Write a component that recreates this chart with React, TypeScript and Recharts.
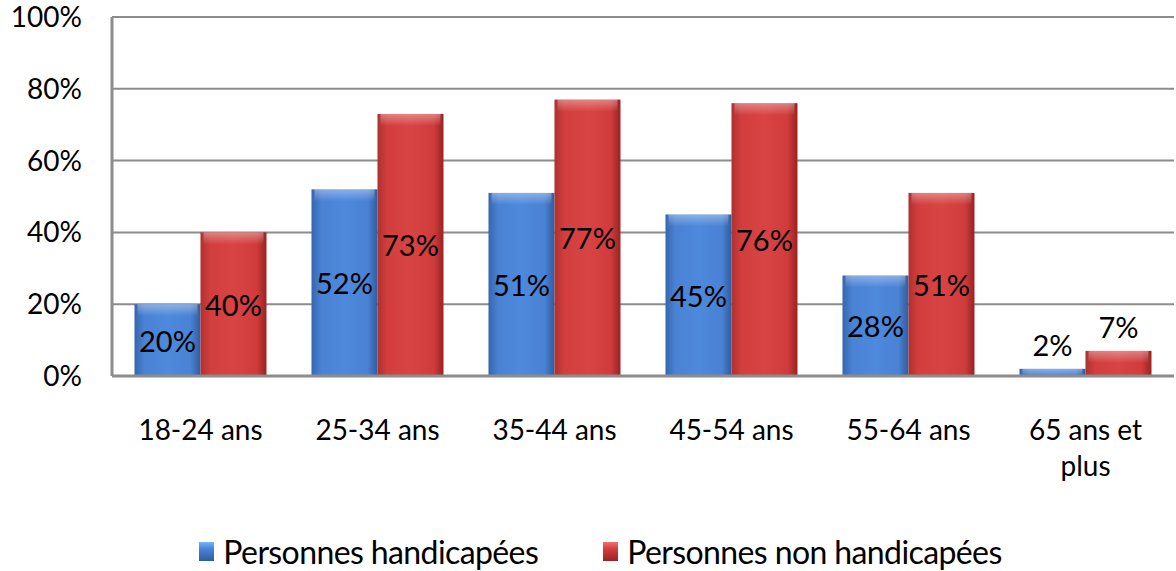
import { Bar, BarChart, CartesianGrid, LabelList, Legend, XAxis, YAxis } from "recharts";

const ageGroups = ["18-24 ans", "25-34 ans", "35-44 ans", "45-54 ans", "55-64 ans", "65 ans et plus"];
const handicapees = [20, 52, 51, 45, 28, 2];
const nonHandicapees = [40, 73, 77, 76, 51, 7];
const yTicks = [0, 20, 40, 60, 80, 100];

const series = [
  { key: "handi", name: "Personnes handicapées", grad: "blueGrad", color: "#4a85d8" },
  { key: "nonHandi", name: "Personnes non handicapées", grad: "redGrad", color: "#d64040" },
];

const data = ageGroups.map((g, i) => ({
  group: g,
  handi: handicapees[i],
  nonHandi: nonHandicapees[i],
}));

const FONT = "Lato, 'Open Sans', sans-serif";

function BevelBar(props: any) {
  const { x, y, width, height, grad } = props;
  if (!height || height <= 0) return null;
  const hl = Math.min(12, height);
  return (
    <g>
      <rect x={x} y={y} width={width} height={height} fill={`url(#${grad})`} />
      <rect x={x + 3} y={y} width={width - 6} height={hl} fill="url(#topShine)" />
    </g>
  );
}

function XTick(props: any) {
  const { x, y, payload } = props;
  const text: string = payload.value;
  const lines = text === "65 ans et plus" ? ["65 ans et", "plus"] : [text];
  return (
    <text x={x} y={y} textAnchor="middle" fontFamily={FONT} fontSize={28} fill="#000">
      {lines.map((l, i) => (
        <tspan key={l} x={x} dy={i === 0 ? 8 : 36}>
          {l}
        </tspan>
      ))}
    </text>
  );
}

function BarLabel(props: any) {
  const { x, y, width, height, value } = props;
  const small = height < 30;
  const cy = small ? y - 24 : y + height / 2;
  return (
    <text
      x={x + width / 2}
      y={cy}
      textAnchor="middle"
      dominantBaseline="central"
      fontFamily={FONT}
      fontSize={29}
      fill="#000"
    >
      {`${value}%`}
    </text>
  );
}

function LegendContent() {
  return (
    <div
      style={{
        height: 40,
        display: "flex",
        alignItems: "center",
        justifyContent: "center",
        gap: 65,
        fontFamily: FONT,
        fontSize: 32,
        marginLeft: 27,
      }}
    >
      {series.map((s) => (
        <div key={s.key} style={{ display: "flex", alignItems: "center", gap: 9 }}>
          <svg width={15} height={19}>
            <rect x={0} y={0} width={15} height={19} fill={`url(#${s.grad}L)`} />
          </svg>
          <span style={{ letterSpacing: -0.6 }}>{s.name}</span>
        </div>
      ))}
    </div>
  );
}

export default function App() {
  return (
    <div style={{ position: "fixed", left: 0, top: 0, width: 1176, height: 571, background: "#fff" }}>
      <BarChart
        width={1176}
        height={571}
        data={data}
        margin={{ top: 17, right: 2, bottom: 0, left: 0 }}
        barCategoryGap="12.7%"
        barGap={0}
      >
        <defs>
          <linearGradient id="blueGrad" x1="0" y1="0" x2="1" y2="0">
            <stop offset="0%" stopColor="#3566b0" />
            <stop offset="15%" stopColor="#4a82d4" />
            <stop offset="50%" stopColor="#4d89dc" />
            <stop offset="85%" stopColor="#4a82d4" />
            <stop offset="100%" stopColor="#2f5c9e" />
          </linearGradient>
          <linearGradient id="redGrad" x1="0" y1="0" x2="1" y2="0">
            <stop offset="0%" stopColor="#b03030" />
            <stop offset="15%" stopColor="#d23e3e" />
            <stop offset="50%" stopColor="#d84444" />
            <stop offset="85%" stopColor="#d03c3c" />
            <stop offset="100%" stopColor="#9a2222" />
          </linearGradient>
          <linearGradient id="blueGradL" x1="0" y1="0" x2="0" y2="1">
            <stop offset="0%" stopColor="#7ab4f0" />
            <stop offset="35%" stopColor="#4a85d8" />
            <stop offset="100%" stopColor="#2f5c9e" />
          </linearGradient>
          <linearGradient id="redGradL" x1="0" y1="0" x2="0" y2="1">
            <stop offset="0%" stopColor="#f07070" />
            <stop offset="35%" stopColor="#d64040" />
            <stop offset="100%" stopColor="#9a2222" />
          </linearGradient>
          <linearGradient id="topShine" x1="0" y1="0" x2="0" y2="1">
            <stop offset="0%" stopColor="#ffffff" stopOpacity={0.35} />
            <stop offset="100%" stopColor="#ffffff" stopOpacity={0} />
          </linearGradient>
        </defs>
        <CartesianGrid vertical={false} stroke="#8c8c8c" strokeWidth={2} />
        <XAxis
          dataKey="group"
          axisLine={{ stroke: "#8c8c8c", strokeWidth: 3 }}
          tickLine={false}
          tick={<XTick />}
          interval={0}
          height={155}
          tickMargin={50}
        />
        <YAxis
          domain={[0, 100]}
          ticks={yTicks}
          tickFormatter={(v: number) => `${v}%`}
          axisLine={{ stroke: "#8c8c8c", strokeWidth: 3 }}
          tickLine={false}
          tickSize={0}
          tickMargin={30}
          width={112}
          tick={{ fontFamily: FONT, fontSize: 28, fill: "#000" }}
        />
        <Legend content={<LegendContent />} verticalAlign="bottom" wrapperStyle={{ bottom: 0 }} />
        {series.map((s) => (
          <Bar
            key={s.key}
            dataKey={s.key}
            name={s.name}
            fill={s.color}
            isAnimationActive={false}
            shape={(p: any) => <BevelBar {...p} grad={s.grad} />}
          >
            <LabelList dataKey={s.key} content={<BarLabel />} />
          </Bar>
        ))}
      </BarChart>
    </div>
  );
}
